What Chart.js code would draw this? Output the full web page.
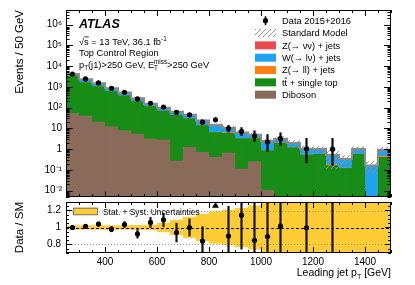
<!DOCTYPE html>
<html>
<head>
<meta charset="utf-8">
<script src="https://cdn.jsdelivr.net/npm/chart.js@4.4.1/dist/chart.umd.min.js"></script>
<style>
  html, body { margin: 0; padding: 0; background: #fff; }
  #mainPad { position: absolute; left: 0; top: 0; }
  #ratioPad { position: absolute; left: 0; top: 200px; }
</style>
</head>
<body>
<canvas id="mainPad" width="415" height="200"></canvas>
<canvas id="ratioPad" width="415" height="85"></canvas>
<script>
// ---- binning / tick labels ----
const binEdges = [250, 300, 350, 400, 450, 500, 550, 600, 650, 700, 750, 800, 850,
                  900, 950, 1000, 1050, 1100, 1150, 1200, 1250, 1300, 1350, 1400, 1450, 1500];
const xTickLabels = [400, 600, 800, 1000, 1200, 1400];
const yTickValues = [1e-2, 1e-1, 1, 10, 1e2, 1e3, 1e4, 1e5, 1e6];
const ratioTicks = [0.8, 1, 1.2];

// ---- data (events / 50 GeV) ----
const dataEvents = [4150, 2400, 1550, 850, 550, 263, 162, 107, 59, 45, 20, 26, 9.8, 7.2, 4.3, 2.2, 3.2, null, 1.05, null, 1.0, null, null, null, null];
const dataErrUp  = [65, 50, 40, 29, 24, 17, 13, 11, 8.5, 7.5, 5.5, 6, 4.2, 3.8, 3.4, 2.9, 3.0, null, 2.3, null, 2.3, null, null, null, null];
const dataErrDn  = [65, 50, 40, 29, 23, 16, 12, 10, 7.5, 6.5, 4.4, 5, 3.1, 2.6, 2.0, 1.4, 1.7, null, 0.83, null, 0.83, null, null, null, null];

// ---- backgrounds ----
const diboson = [55, 41, 21, 12.6, 8.1, 5.6, 3.2, 2.9, 0.28, 1.3, 0.74, 0.42, 0.68, 0.115, 0.26, 0.011, 0, 0, 0, 0, 0, 0.0055, 0, 0, 0];
const ttbarST = [3335, 1620, 1050, 617, 372, 198, 112, 68, 43.7, 28.7, 13.3, 6.2, 5.3, 3.2, 3.1, 0.86, 2.05, 1.2, 0.54, 0.59, 0.166, 0.118, 0.59, 0, 0.42];
const zllJets = [12, 8, 5, 3, 2, 1, 0.6, 0.4, 0.3, 0.2, 0.12, 0.1, 0.6, 0.05, 0.04, 0.02, 0.02, 0.02, 0.01, 0.01, 0.02, 0.005, 0.01, 0, 0.05];
const wJets   = [768, 672, 415, 234, 149, 79, 37.4, 26.6, 18.7, 14.8, 9.9, 7.8, 4.3, 2.95, 1.56, 1.61, 1.08, 0.78, 0.5, 0.42, 0.354, 0.21, 0.42, 0.166, 0.46];
const znnJets = [0, 0, 0, 0, 0, 0, 0, 0, 0, 0, 0, 0, 0, 0, 0, 0, 0, 0, 0, 0, 0, 0, 0, 0, 0];
// relative stat+syst uncertainty on the SM
const smUnc = [0.025, 0.025, 0.025, 0.025, 0.025, 0.028, 0.032, 0.055, 0.09, 0.125, 0.16, 0.19, 0.21, 0.23, 0.26, 0.29, 0.35, 0.35, 0.4, 0.35, 0.8, 0.5, 0.35, 0.6, 0.4];

// ---- ratio data / SM ----
const ratioVals  = [1.0, 1.015, 1.04, 0.98, 1.035, 0.925, 1.06, 1.09, 0.94, 1.0, 0.84, 1.8, 0.90, 1.145, 0.85, 0.894, 1.016, null, 0.996, null, 1.85, null, null, null, null];
const ratioErrUp = [0.02, 0.02, 0.025, 0.03, 0.035, 0.05, 0.06, 0.08, 0.11, 0.1, 0.17, 0.45, 0.35, 0.55, 0.7, 1.2, 0.9, null, 2.2, null, 4, null, null, null, null];
const ratioErrDn = [0.02, 0.02, 0.025, 0.03, 0.035, 0.05, 0.06, 0.08, 0.11, 0.1, 0.19, 0.35, 0.3, 0.4, 0.45, 0.55, 0.5, null, 0.8, null, 1.55, null, null, null, null];

const FONT = '"Liberation Sans", Arial, Helvetica, sans-serif';
Chart.defaults.font.family = FONT;
Chart.defaults.color = '#000';

const X_MIN = 250, X_MAX = 1500;
const Y_MIN = 0.005, Y_MAX = 5e6;
const R_MIN = 0.7, R_MAX = 1.3;

const centers = binEdges.slice(0, -1).map((e, i) => (e + binEdges[i + 1]) / 2);

const stack = [
  { label: 'Diboson',          vals: diboson, color: '#8a6a59' },
  { label: 'tt + single top',  vals: ttbarST, color: '#178c17' },
  { label: 'Z(→ ll) + jets',   vals: zllJets, color: '#ff7f10' },
  { label: 'W(→ lν) + jets',   vals: wJets,   color: '#1ea2f2' },
  { label: 'Z(→ νν) + jets',   vals: znnJets, color: '#e94a4a' }
];
let running = centers.map(() => 0);
stack.forEach(s => {
  running = running.map((r, i) => r + s.vals[i]);
  s.cum = running.slice();
});
const smTotal = running;

// hatch pattern for the SM uncertainty
function makeHatch() {
  const c = document.createElement('canvas');
  c.width = 5; c.height = 5;
  const g = c.getContext('2d');
  g.strokeStyle = '#8c8c8c';
  g.lineWidth = 0.9;
  g.beginPath();
  g.moveTo(0, 5); g.lineTo(5, 0);
  g.moveTo(-1, 1); g.lineTo(1, -1);
  g.moveTo(4, 6); g.lineTo(6, 4);
  g.stroke();
  return g.createPattern(c, 'repeat');
}
const hatch = makeHatch();

const supMap = { '-': '⁻', '0': '⁰', '1': '¹', '2': '²', '3': '³', '4': '⁴', '5': '⁵', '6': '⁶', '7': '⁷', '8': '⁸', '9': '⁹' };
function logLabel(v) {
  const e = Math.round(Math.log10(v));
  if (e === 0) return '1';
  if (e === 1) return '10';
  return '10' + String(e).split('').map(c => supMap[c]).join('');
}

// rich text: parts = [{t}, {sub}, {sup}, {sub, sup}, {t, over}]
function rich(ctx, x, y, parts, size, style) {
  let cx = x;
  const small = size * 0.68;
  parts.forEach(p => {
    if (p.t !== undefined) {
      ctx.font = (style || '') + ' ' + size + 'px ' + FONT;
      ctx.fillText(p.t, cx, y);
      const w = ctx.measureText(p.t).width;
      if (p.over) {
        ctx.save();
        ctx.strokeStyle = '#000'; ctx.lineWidth = 0.8;
        ctx.beginPath();
        ctx.moveTo(cx + (p.overFrom || 0) * w, y - size * 0.82);
        ctx.lineTo(cx + w, y - size * 0.82);
        ctx.stroke();
        ctx.restore();
      }
      cx += w;
    } else {
      ctx.font = small + 'px ' + FONT;
      let w = 0;
      if (p.sub !== undefined) {
        ctx.fillText(p.sub, cx, y + size * 0.3);
        w = Math.max(w, ctx.measureText(p.sub).width);
      }
      if (p.sup !== undefined) {
        ctx.fillText(p.sup, cx, y - size * 0.42);
        w = Math.max(w, ctx.measureText(p.sup).width);
      }
      cx += w;
    }
  });
  return cx;
}

// keep chart areas where we put them (no label overhang padding)
function noPad(s) {
  s.paddingTop = 0; s.paddingBottom = 0; s.paddingLeft = 0; s.paddingRight = 0;
}

function drawFrameTicks(chart, xLenMaj, xLenMin, yTicks) {
  const { ctx, chartArea: a, scales: { x } } = chart;
  ctx.save();
  ctx.strokeStyle = '#000';
  ctx.lineWidth = 1;
  ctx.beginPath();
  for (let v = X_MIN; v <= X_MAX; v += 50) {
    const px = Math.round(x.getPixelForValue(v)) + 0.5;
    const L = v % 200 === 0 ? xLenMaj : xLenMin;
    ctx.moveTo(px, a.bottom); ctx.lineTo(px, a.bottom - L);
    ctx.moveTo(px, a.top); ctx.lineTo(px, a.top + L);
  }
  yTicks.forEach(([py, L]) => {
    const p = Math.round(py) + 0.5;
    ctx.moveTo(a.left, p); ctx.lineTo(a.left + L, p);
    ctx.moveTo(a.right, p); ctx.lineTo(a.right - L, p);
  });
  ctx.stroke();
  ctx.strokeRect(a.left + 0.5, a.top + 0.5, a.right - a.left - 1, a.bottom - a.top - 1);
  ctx.restore();
}

const mainDecor = {
  id: 'mainDecor',
  afterDraw(chart) {
    const { ctx, chartArea: a, scales: { y } } = chart;
    const yt = [];
    for (let e = -3; e <= 6; e++) {
      for (let m = 1; m <= 9; m++) {
        const v = m * Math.pow(10, e);
        if (v >= Y_MIN && v <= Y_MAX) yt.push([y.getPixelForValue(v), m === 1 ? 7 : 3.5]);
      }
    }
    drawFrameTicks(chart, 6, 3, yt);

    ctx.save();
    ctx.fillStyle = '#000';
    ctx.textBaseline = 'alphabetic';
    const tx = a.left + 13;
    rich(ctx, tx, 27.5, [{ t: 'ATLAS' }], 12.5, 'italic bold');
    rich(ctx, tx, 44.5, [{ t: '√s', over: true, overFrom: 0.55 }, { t: ' = 13 TeV, 36.1 fb' }, { sup: '-1' }], 9.3);
    rich(ctx, tx, 56, [{ t: 'Top Control Region' }], 9.3);
    rich(ctx, tx, 67.5, [{ t: 'p' }, { sub: 'T' }, { t: '(j1)>250 GeV, E' }, { sub: 'T', sup: 'miss' }, { t: '>250 GeV' }], 9.3);

    // legend
    const bx = a.left + 189, bw = 21, bh = 8, lx = a.left + 216;
    const row = i => 20.7 + i * 12.33;
    // data
    ctx.beginPath();
    ctx.arc(bx + bw / 2, row(0), 2.6, 0, Math.PI * 2);
    ctx.fill();
    ctx.fillRect(bx + bw / 2 - 0.75, row(0) - 4.5, 1.5, 9);
    rich(ctx, lx, row(0) + 3.3, [{ t: 'Data 2015+2016' }], 9.3);
    // SM hatch
    ctx.fillStyle = hatch;
    ctx.fillRect(bx, row(1) - bh / 2, bw, bh);
    ctx.fillStyle = '#000';
    rich(ctx, lx, row(1) + 3.3, [{ t: 'Standard Model' }], 9.3);
    const legOrder = [4, 3, 2, 1, 0];
    legOrder.forEach((k, j) => {
      const yy = row(j + 2);
      ctx.fillStyle = stack[k].color;
      ctx.fillRect(bx, yy - bh / 2, bw, bh);
      ctx.fillStyle = '#000';
      if (k === 1) {
        rich(ctx, lx, yy + 3.3, [{ t: 't' }, { t: 't', over: true }, { t: ' + single top' }], 9.3);
      } else {
        rich(ctx, lx, yy + 3.3, [{ t: stack[k].label }], 9.3);
      }
    });
    ctx.restore();
  }
};

const ratioDecor = {
  id: 'ratioDecor',
  afterDatasetDraw(chart, args) {
    if (!chart.data.datasets[args.index].isBand) return;
    const { ctx, chartArea: a, scales: { y } } = chart;
    ctx.save();
    ctx.lineWidth = 1;
    ctx.strokeStyle = '#9a9a9a';
    ctx.setLineDash([1, 2]);
    [0.8, 1.2].forEach(v => {
      const p = Math.round(y.getPixelForValue(v)) + 0.5;
      ctx.beginPath(); ctx.moveTo(a.left, p); ctx.lineTo(a.right, p); ctx.stroke();
    });
    ctx.strokeStyle = '#000';
    ctx.setLineDash([3, 2]);
    const p1 = Math.round(y.getPixelForValue(1)) + 0.5;
    ctx.beginPath(); ctx.moveTo(a.left, p1); ctx.lineTo(a.right, p1); ctx.stroke();
    ctx.restore();
  },
  afterDraw(chart) {
    const { ctx, chartArea: a, scales: { y } } = chart;
    const yt = [];
    for (let v = 0.7; v <= 1.3001; v += 0.05) {
      const isMaj = Math.abs(v * 5 - Math.round(v * 5)) < 1e-6;
      yt.push([y.getPixelForValue(v), isMaj ? 6 : 3]);
    }
    drawFrameTicks(chart, 6, 3, yt);

    ctx.save();
    // band legend
    const bx = a.left + 7, by = a.top + 5.7;
    ctx.fillStyle = '#ffcc33';
    ctx.fillRect(bx, by, 25, 7.5);
    ctx.strokeStyle = '#777';
    ctx.lineWidth = 1;
    ctx.strokeRect(bx + 0.5, by + 0.5, 24, 6.5);
    ctx.fillStyle = '#000';
    ctx.textBaseline = 'alphabetic';
    rich(ctx, bx + 30, by + 7, [{ t: 'Stat. + Syst. Uncertainties' }], 8.4);
    // x axis title, right-aligned
    const parts = [{ t: 'Leading jet p' }, { sub: 'T' }, { t: ' [GeV]' }];
    const c2 = document.createElement('canvas').getContext('2d');
    const wEnd = rich(c2, 0, 0, parts, 10.5);
    rich(ctx, a.right - wEnd, 76, parts, 10.5);
    ctx.restore();
  }
};

const commonDs = {
  bar: { grouped: false, barPercentage: 1.02, categoryPercentage: 1, borderWidth: 0, clip: 0 },
  line: { clip: 0 }
};

const xy = (vals) => centers.map((x, i) => ({ x, y: vals[i] }));
const stepPts = (vals) => binEdges.map((x, i) => ({ x, y: vals[Math.min(i, vals.length - 1)] }));

// ---------------- main pad ----------------
new Chart(document.getElementById('mainPad'), {
  type: 'bar',
  data: {
    datasets: [
      {
        type: 'line', label: 'Data 2015+2016', data: xy(dataEvents), showLine: false,
        pointRadius: 2.6, pointBackgroundColor: '#000', pointBorderWidth: 0, order: 0
      },
      {
        label: 'data errors', order: 1, backgroundColor: '#000', barThickness: 1.5,
        data: centers.map((x, i) => ({ x, y: dataEvents[i] == null ? null : [dataEvents[i] - dataErrDn[i], dataEvents[i] + dataErrUp[i]] }))
      },
      {
        type: 'line', label: 'Standard Model', data: stepPts(smTotal), stepped: true,
        borderColor: '#8a8a8a', borderWidth: 2, pointRadius: 0, fill: false, order: 2
      },
      {
        label: 'SM uncertainty', order: 3, backgroundColor: hatch,
        data: centers.map((x, i) => ({ x, y: [smTotal[i] * (1 - smUnc[i]), smTotal[i] * (1 + smUnc[i])] }))
      },
      ...stack.map((s, k) => ({
        label: s.label, order: 4 + k, backgroundColor: s.color,
        data: centers.map((x, i) => ({ x, y: s.cum[i] > 0 ? s.cum[i] : null }))
      }))
    ]
  },
  options: {
    responsive: false,
    animation: false,
    events: [],
    datasets: commonDs,
    layout: { autoPadding: false, padding: { top: 10, right: 24, bottom: 3, left: 0 } },
    plugins: { legend: { display: false }, tooltip: { enabled: false } },
    scales: {
      x: { type: 'linear', min: X_MIN, max: X_MAX, offset: false, display: false },
      y: {
        type: 'logarithmic', min: Y_MIN, max: Y_MAX,
        afterBuildTicks: s => { s.ticks = yTickValues.map(v => ({ value: v })); },
        afterFit: s => { s.width = 66; noPad(s); },
        grid: { display: false, drawTicks: false },
        border: { display: false },
        ticks: { callback: v => logLabel(v), font: { size: 10 }, padding: 4, autoSkip: false, maxRotation: 0 },
        title: { display: true, text: 'Events / 50 GeV', align: 'end', font: { size: 11.5 }, padding: { top: 13 } }
      }
    }
  },
  plugins: [mainDecor]
});

// ---------------- ratio pad ----------------
new Chart(document.getElementById('ratioPad'), {
  type: 'bar',
  data: {
    datasets: [
      {
        type: 'line', label: 'ratio', data: xy(ratioVals), showLine: false,
        pointRadius: 2.6, pointBackgroundColor: '#000', pointBorderWidth: 0, order: 0
      },
      {
        type: 'line', label: 'out of range', showLine: false, order: 0,
        pointStyle: 'triangle', pointRadius: 4, pointBackgroundColor: '#000', pointBorderWidth: 0,
        data: centers.map((x, i) => ({
          x, y: (ratioVals[i] != null && ratioVals[i] - ratioErrDn[i] > R_MAX) ? R_MAX - 0.045 : null
        }))
      },
      {
        label: 'ratio errors', order: 1, backgroundColor: '#111', barThickness: 1.5,
        data: centers.map((x, i) => ({ x, y: ratioVals[i] == null ? null : [ratioVals[i] - ratioErrDn[i], ratioVals[i] + ratioErrUp[i]] }))
      },
      {
        label: 'Stat. + Syst. Uncertainties', order: 5, backgroundColor: '#ffcc33', isBand: true,
        data: centers.map((x, i) => ({ x, y: [1 - smUnc[i], 1 + smUnc[i]] }))
      }
    ]
  },
  options: {
    responsive: false,
    animation: false,
    events: [],
    datasets: commonDs,
    layout: { autoPadding: false, padding: { top: 2, right: 24, bottom: 0, left: 0 } },
    plugins: { legend: { display: false }, tooltip: { enabled: false } },
    scales: {
      x: {
        type: 'linear', min: X_MIN, max: X_MAX, offset: false,
        afterBuildTicks: s => { s.ticks = xTickLabels.map(v => ({ value: v })); },
        afterFit: s => { s.height = 32; noPad(s); },
        grid: { display: false, drawTicks: false },
        border: { display: false },
        ticks: { callback: v => String(v), font: { size: 10 }, padding: 3, autoSkip: false, maxRotation: 0 }
      },
      y: {
        type: 'linear', min: R_MIN, max: R_MAX,
        afterBuildTicks: s => { s.ticks = ratioTicks.map(v => ({ value: v })); },
        afterFit: s => { s.width = 66; noPad(s); },
        grid: { display: false, drawTicks: false },
        border: { display: false },
        ticks: { callback: v => String(v), font: { size: 10 }, padding: 5, autoSkip: false },
        title: { display: true, text: 'Data / SM', align: 'end', font: { size: 11.5 }, padding: { top: 13 } }
      }
    }
  },
  plugins: [ratioDecor]
});
</script>
</body>
</html>
